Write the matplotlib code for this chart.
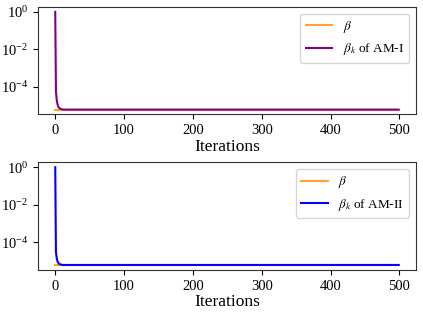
import numpy as np
import matplotlib
matplotlib.use("Agg")
import matplotlib.pyplot as plt

plt.rcParams['font.family'] = ['Liberation Serif', 'DejaVu Serif']
plt.rcParams['mathtext.fontset'] = 'stix'

# ---------------- data ----------------
n_iter = 500
iterations = list(range(n_iter))

beta_true = 6e-6           # orange reference level

# first iterations of beta_k, after that it sits on the true value
am1_head = [1.0, 6e-5, 2.2e-5, 1.3e-5, 9.5e-6, 8e-6, 7.2e-6, 6.8e-6, 6.5e-6, 6.3e-6, 6.2e-6, 6.1e-6]
am1_floor = 6e-6
am2_head = [1.0, 3e-5, 1.5e-5, 1.0e-5, 8.2e-6, 7.3e-6, 6.8e-6, 6.5e-6, 6.3e-6, 6.2e-6, 6.1e-6]
am2_floor = 6e-6

beta_k_am1 = am1_head + [am1_floor] * (n_iter - len(am1_head))
beta_k_am2 = am2_head + [am2_floor] * (n_iter - len(am2_head))
beta_line = [beta_true] * n_iter

# ---------------- figure ----------------
fig, axes = plt.subplots(2, 1, figsize=(4.23, 3.16), dpi=100)
fig.subplots_adjust(left=0.09, right=0.983, top=0.978, bottom=0.146, hspace=0.445)

panels = [(beta_k_am1, 'purple', r'$\beta_k$ of AM-I'),
          (beta_k_am2, 'blue', r'$\beta_k$ of AM-II')]

for ax, (vals, col, lab) in zip(axes, panels):
    ax.plot(iterations, beta_line, color='darkorange', alpha=0.8, lw=1.5, label=r'$\beta$')
    ax.plot(iterations, vals, color=col, lw=1.5, label=lab)
    ax.set_yscale('log')
    ax.set_yticks([1e0, 1e-2, 1e-4])
    ax.minorticks_off()
    ax.set_xticks([0, 100, 200, 300, 400, 500])
    ax.tick_params(labelsize=10.5)
    ax.set_xlabel('Iterations', fontsize=12.5, labelpad=1)
    ax.legend(loc='upper right', fontsize=9.5)
    for s in ax.spines.values():
        s.set_color('#333333')

fig.savefig('out.png', dpi=100)
